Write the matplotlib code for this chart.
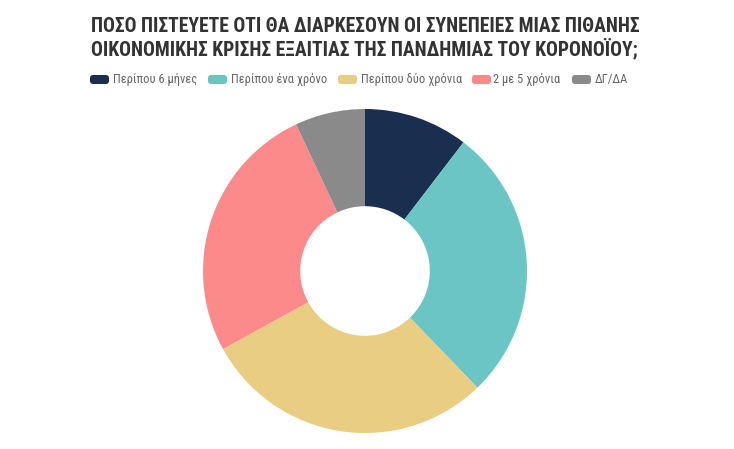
import matplotlib
matplotlib.use("Agg")
import matplotlib.pyplot as plt
from matplotlib.patches import FancyBboxPatch
from matplotlib import font_manager

categories = ["Περίπου 6 μήνες", "Περίπου ένα χρόνο", "Περίπου δύο χρόνια", "2 με 5 χρόνια", "ΔΓ/ΔΑ"]
values = [10.4, 27.4, 29.2, 26.0, 7.0]
colors = ["#1a2e4f", "#6cc5c5", "#e9cd82", "#fc8a8a", "#8a8a8a"]
title_lines = ["ΠΟΣΟ ΠΙΣΤΕΥΕΤΕ ΟΤΙ ΘΑ ΔΙΑΡΚΕΣΟΥΝ ΟΙ ΣΥΝΕΠΕΙΕΣ ΜΙΑΣ ΠΙΘΑΝΗΣ",
               "ΟΙΚΟΝΟΜΙΚΗΣ ΚΡΙΣΗΣ ΕΞΑΙΤΙΑΣ ΤΗΣ ΠΑΝΔΗΜΙΑΣ ΤΟΥ ΚΟΡΟΝΟΪΟΥ;"]

names = {f.name for f in font_manager.fontManager.ttflist}
fam = "DejaVu Sans"
for cand in ["Roboto Condensed", "Liberation Sans Narrow", "Roboto"]:
    if cand in names:
        fam = cand
        break
stretch = "condensed"

W, H = 734, 449
fig = plt.figure(figsize=(W/100, H/100), dpi=100)
fig.patch.set_facecolor("white")
renderer = fig.canvas.get_renderer()

def fit(t, target_w):
    bb = t.get_window_extent(renderer=renderer)
    t.set_fontsize(t.get_fontsize() * target_w / bb.width)

cx, cy, r = 365, 271, 162
ax = fig.add_axes([(cx - r)/W, (H - cy - r)/H, 2*r/W, 2*r/H])
ax.pie(values, colors=colors, startangle=90, counterclock=False, radius=1,
       wedgeprops=dict(width=0.6, edgecolor="none"))
ax.set_xlim(-1, 1)
ax.set_ylim(-1, 1)
ax.set_aspect("equal")
ax.axis("off")

t1 = fig.text(91/W, 1 - 27/H, title_lines[0], ha="left", va="center", fontsize=14,
              fontweight="bold", color="#333333", family=fam, fontstretch=stretch)
t2 = fig.text(91/W, 1 - 49/H, title_lines[1], ha="left", va="center", fontsize=14,
              fontweight="bold", color="#333333", family=fam, fontstretch=stretch)
fit(t1, 552)
t2.set_fontsize(t1.get_fontsize())

box_x = [90, 208, 338, 472, 572]
text_x = [113, 231, 361, 493, 595]
ly = 79.5
texts = []
for bx, tx, c, lab in zip(box_x, text_x, colors, categories):
    p = FancyBboxPatch(((bx)/W, (H - ly - 4.5)/H), 19/W, 9/H,
                       boxstyle="round,pad=0,rounding_size=0.004",
                       transform=fig.transFigure, facecolor=c, edgecolor="none",
                       mutation_aspect=W/H)
    fig.patches.append(p)
    texts.append(fig.text(tx/W, 1 - ly/H, lab, ha="left", va="center", fontsize=9,
                          color="#666666", family=fam, fontstretch=stretch))
fit(texts[0], 84)
for t in texts[1:]:
    t.set_fontsize(texts[0].get_fontsize())

fig.savefig("out.png", dpi=100, facecolor="white")
